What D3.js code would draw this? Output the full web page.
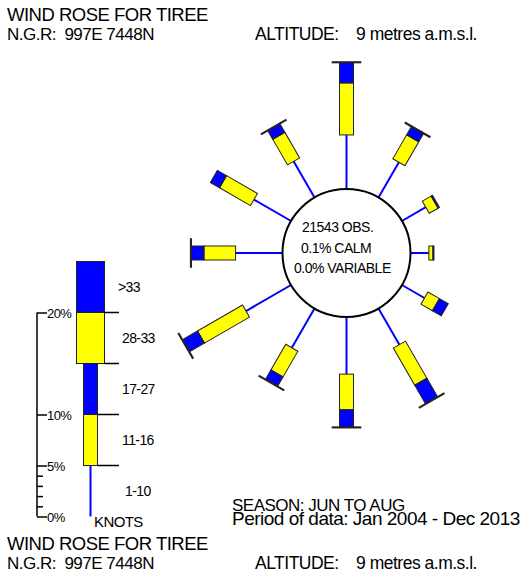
<!DOCTYPE html>
<html>
<head>
<meta charset="utf-8">
<script src="https://cdn.jsdelivr.net/npm/d3@7"></script>
<style>
  body { margin: 0; background: #fff; }
  svg { display: block; font-family: "Liberation Sans", Arial, sans-serif; }
  text { white-space: pre; }
</style>
</head>
<body>
<svg id="chart" width="529" height="579"></svg>
<script>
// Wind rose, Tiree, Jun-Aug (percent of observations per direction and speed band)
const directions = [0, 30, 60, 90, 120, 150, 180, 210, 240, 270, 300, 330];
const kn1_10  = [5.3, 4.0, 2.7, 1.8, 2.55, 4.1, 5.6, 4.45, 5.1, 4.6, 4.2, 4.1];
const kn11_16 = [5.1, 2.7, 1.0, 0.4, 1.3, 4.2, 3.5, 2.9, 5.1, 3.1, 3.5, 2.9];
const kn17_27 = [2.0, 0.94, 0.15, 0.1, 1.0, 2.1, 1.7, 1.07, 1.7, 1.25, 1.04, 0.97];
const kn28_33 = [0.05, 0.05, 0, 0, 0, 0.05, 0.05, 0.05, 0.05, 0.05, 0, 0.05];
const kn34    = [0, 0, 0, 0, 0, 0, 0, 0, 0, 0, 0, 0];

const bandLabels = ["1-10", "11-16", "17-27", "28-33", ">33"];
const legendTicks = [0, 5, 10, 20];
const legendMinor = [1, 2, 3, 4];
const centreText = ["21543 OBS.", "0.1% CALM", "0.0% VARIABLE"];

const BLUE = "#0000ff", YELLOW = "#ffff00";
const svg = d3.select("#chart");

// rose geometry
const cx = 346.5, cy = 253, R0 = 64;
const pxPerPct = 10.2;
const rad = d3.scaleLinear().domain([0, 1]).range([R0, R0 + pxPerPct]);

const rows = directions.map((dir, i) => ({
  dir, vals: [kn1_10[i], kn11_16[i], kn17_27[i], kn28_33[i], kn34[i]]
}));

const rose = svg.append("g").attr("transform", `translate(${cx},${cy})`);

const spoke = rose.selectAll("g.spoke")
  .data(rows)
  .join("g")
  .attr("class", "spoke")
  .attr("transform", d => `rotate(${d.dir})`);

// 1-10 knots: thin line out from the circle
spoke.append("line")
  .attr("x1", 0).attr("x2", 0)
  .attr("y1", -rad(0))
  .attr("y2", d => -rad(d.vals[0]))
  .attr("stroke", BLUE)
  .attr("stroke-width", 2);

// bars for the faster bands
const widths = [0, 14, 14, 28, 28];
const fills = [null, YELLOW, BLUE, YELLOW, BLUE];
spoke.each(function (d) {
  const g = d3.select(this);
  let cum = d.vals[0];
  for (let b = 1; b < 5; b++) {
    const v = d.vals[b];
    if (v > 0) {
      g.append("rect")
        .attr("x", -widths[b] / 2)
        .attr("width", widths[b])
        .attr("y", -rad(cum + v))
        .attr("height", rad(cum + v) - rad(cum))
        .attr("fill", fills[b])
        .attr("stroke", "#222")
        .attr("stroke-width", b >= 3 ? 1.6 : 1);
    }
    cum += v;
  }
});

rose.append("circle")
  .attr("r", R0)
  .attr("fill", "#fff")
  .attr("stroke", "#000")
  .attr("stroke-width", 2);

rose.selectAll("text.centre")
  .data(centreText)
  .join("text")
  .attr("class", "centre")
  .attr("x", (d, i) => [-44.5, -45.5, -52.5][i])
  .attr("y", (d, i) => -21 + i * 20.5)
  .attr("font-size", 14)
  .attr("letter-spacing", -0.5)
  .text(d => d);

// legend (key)
const ly = d3.scaleLinear().domain([0, 25]).range([516.5, 261.5]);
const lx = 90.5;
const legend = svg.append("g");

legend.append("line")
  .attr("x1", lx).attr("x2", lx)
  .attr("y1", ly(0)).attr("y2", ly(5))
  .attr("stroke", BLUE).attr("stroke-width", 2);

const keyBands = [
  { from: 5, to: 10, w: 14, fill: YELLOW },
  { from: 10, to: 15, w: 14, fill: BLUE },
  { from: 15, to: 20, w: 28, fill: YELLOW },
  { from: 20, to: 25, w: 28, fill: BLUE }
];
legend.selectAll("rect")
  .data(keyBands)
  .join("rect")
  .attr("x", d => lx - d.w / 2)
  .attr("width", d => d.w)
  .attr("y", d => ly(d.to))
  .attr("height", d => ly(d.from) - ly(d.to))
  .attr("fill", d => d.fill)
  .attr("stroke", "#222")
  .attr("stroke-width", 1);

legend.selectAll("line.sep")
  .data(keyBands)
  .join("line")
  .attr("class", "sep")
  .attr("x1", d => lx + d.w / 2).attr("x2", 119)
  .attr("y1", d => ly(d.from)).attr("y2", d => ly(d.from))
  .attr("stroke", "#000").attr("stroke-width", 1.5);

legend.selectAll("text.band")
  .data(bandLabels)
  .join("text")
  .attr("class", "band")
  .attr("x", (d, i) => i === 0 ? 125 : (i === 4 ? 118 : 122))
  .attr("y", (d, i) => ly(i * 5 + 2.5) + 5)
  .attr("font-size", 14)
  .attr("letter-spacing", -0.6)
  .text(d => d);

legend.append("text")
  .attr("x", 94).attr("y", 527)
  .attr("font-size", 15)
  .attr("letter-spacing", -0.6)
  .text("KNOTS");

// percentage scale
const axisX = 37;
const axisG = svg.append("g").attr("transform", `translate(${axisX},0)`);
axisG.call(d3.axisRight(ly).tickValues(legendTicks).tickSize(10).tickPadding(0)
  .tickFormat(d => d + "%"));
axisG.select(".domain").remove();
axisG.selectAll(".tick line").attr("stroke-width", 1.5);
axisG.selectAll(".tick text")
  .attr("font-family", "Liberation Sans, Arial, sans-serif")
  .attr("font-size", 13)
  .attr("letter-spacing", -0.6)
  .attr("dy", "0.35em");

const minorG = svg.append("g").attr("transform", `translate(${axisX},0)`);
minorG.call(d3.axisRight(ly).tickValues(legendMinor).tickSize(6).tickFormat(""));
minorG.select(".domain").remove();
minorG.selectAll(".tick line").attr("stroke-width", 1.5);

svg.append("line")
  .attr("x1", axisX).attr("x2", axisX)
  .attr("y1", ly(0)).attr("y2", ly(20))
  .attr("stroke", "#000").attr("stroke-width", 1.5);

// header / footer text
const textRows = [
  { t: "WIND ROSE FOR TIREE", x: 7, y: 21, s: 18.5 },
  { t: "N.G.R:  997E 7448N", x: 7, y: 40, s: 17 },
  { t: "ALTITUDE:    9 metres a.m.s.l.", x: 255, y: 40, s: 17.5 },
  { t: "SEASON: JUN TO AUG", x: 232, y: 510.5, s: 17 },
  { t: "Period of data: Jan 2004 - Dec 2013", x: 232, y: 525, s: 19 },
  { t: "WIND ROSE FOR TIREE", x: 7, y: 550, s: 18.5 },
  { t: "N.G.R:  997E 7448N", x: 7, y: 569, s: 17 },
  { t: "ALTITUDE:    9 metres a.m.s.l.", x: 255, y: 569, s: 17.5 }
];
svg.selectAll("text.hdr")
  .data(textRows)
  .join("text")
  .attr("class", "hdr")
  .attr("x", d => d.x).attr("y", d => d.y)
  .attr("font-size", d => d.s)
  .attr("letter-spacing", -0.5)
  .text(d => d.t);
</script>
</body>
</html>
